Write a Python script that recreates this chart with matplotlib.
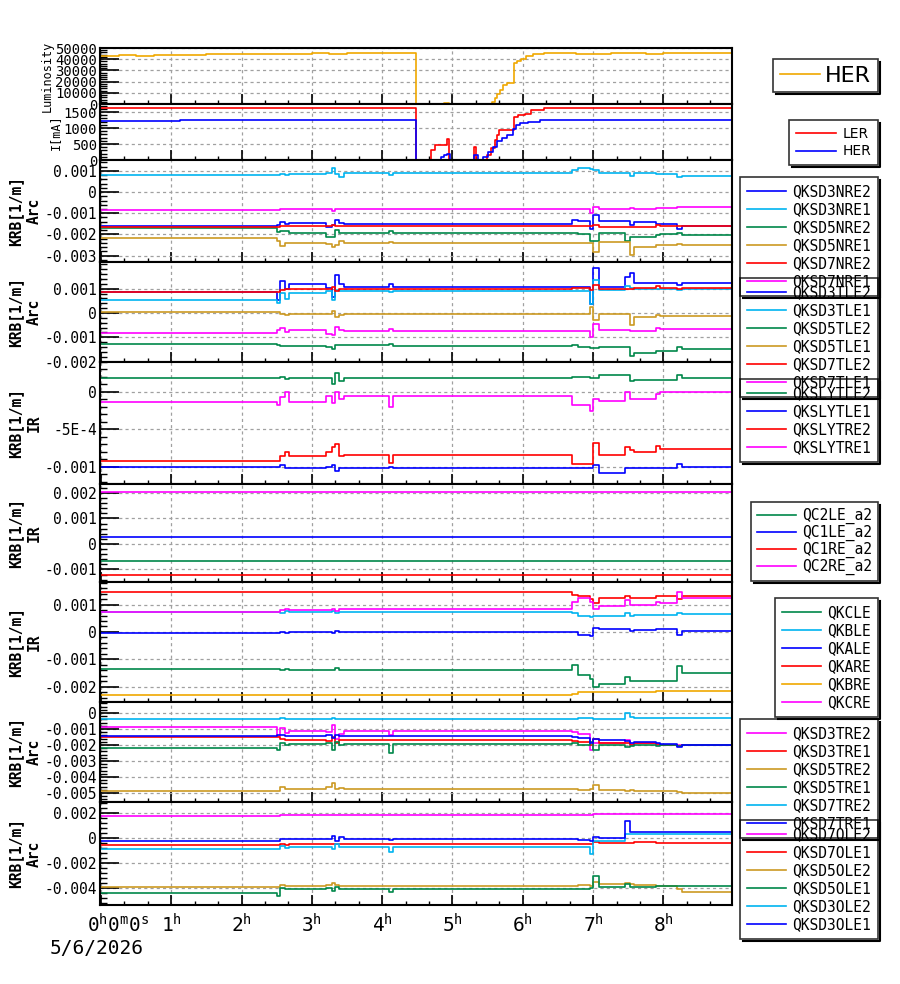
import matplotlib
matplotlib.use("Agg")
import matplotlib.pyplot as plt
from matplotlib.ticker import FixedLocator, FixedFormatter, MultipleLocator, AutoMinorLocator
from matplotlib.transforms import ScaledTranslation
from matplotlib.lines import Line2D

plt.rcParams['mathtext.fontset'] = 'custom'
plt.rcParams['mathtext.rm'] = 'DejaVu Sans Mono'
plt.rcParams['mathtext.default'] = 'rm'

MONO = 'DejaVu Sans Mono'
SANS = 'DejaVu Sans'

BLUE = '#0000ff'
CYAN = '#00b4f0'
GREEN = '#00884a'
GOLD = '#cc9922'
ORANGE = '#f0a800'
RED = '#ff0000'
MAGENTA = '#ff00ff'

# ---------------- data ----------------
# luminosity (hours, value)
LUM_T = [0, 0.25, 0.5, 0.75, 1.0, 1.25, 1.5, 1.75, 2.0, 2.25, 2.5, 2.75, 3.0, 3.25, 3.5,
         3.75, 4.0, 4.25, 4.476, 4.88, 4.95, 5.56, 5.6, 5.64, 5.68, 5.72, 5.77, 5.87, 5.92,
         5.97, 6.05, 6.15, 6.3, 6.5, 6.75, 7.0, 7.25, 7.5, 7.75, 8.0, 8.25, 8.5, 8.75, 8.98]
LUM_V = [43000, 43800, 43200, 43500, 44000, 43600, 44500, 44200, 44800, 44600, 44900, 44700,
         45300, 45000, 45600, 45200, 45400, 45100, 0, 800, 0, 2000, 5000, 9000, 12500, 17000,
         18500, 36300, 38700, 40000, 43000, 44500, 45200, 45800, 45000, 44800, 45200, 45500,
         45000, 45300, 45700, 45200, 45600, 45600]

# beam currents [mA]
LER_T = [0, 4.476, 4.70, 4.75, 4.92, 4.95, 5.30, 5.33, 5.49, 5.55, 5.60, 5.63, 5.66, 5.87,
         5.93, 6.03, 6.12, 6.3, 8.98]
LER_V = [1625, 0, 310, 470, 650, 0, 400, 0, 150, 375, 625, 780, 940, 1340, 1400, 1440, 1560,
         1625, 1625]
HER_T = [0, 1.12, 4.476, 4.84, 4.88, 4.92, 4.97, 5.3, 5.36, 5.43, 5.5, 5.57, 5.64, 5.71, 5.77,
         5.86, 5.9, 5.96, 6.08, 6.25, 8.98]
HER_V = [1220, 1245, 0, 80, 150, 190, 0, 150, 0, 80, 250, 420, 580, 700, 780, 970, 1090, 1150,
         1200, 1250, 1250]

# common time breakpoints of the skew-quad settings [h]
KRB_T = [0, 2.5, 2.55, 2.62, 2.68, 3.2, 3.28, 3.33, 3.38, 3.45, 4.1, 4.15, 6.7, 6.78, 6.95,
         7.0, 7.08, 7.45, 7.52, 7.58, 7.9, 7.95, 8.2, 8.27, 8.98]

# KRB values in units of 1e-3 [1/m]
QKSD3NRE2 = [-1.6, -1.55, -1.42, -1.5, -1.46, -1.65, -1.55, -1.3, -1.45, -1.5, -1.5, -1.5, -1.3,
             -1.37, -1.75, -1.1, -1.37, -1.37, -1.55, -1.42, -1.5, -1.5, -1.75, -1.6, -1.6]
QKSD3NRE1 = [0.8, 0.8, 0.85, 0.82, 0.85, 0.9, 1.13, 0.85, 0.7, 0.9, 0.8, 0.9, 1.04, 1.15, 1.1,
             1.05, 0.92, 0.9, 0.75, 0.9, 0.85, 0.85, 0.7, 0.75, 0.75]
QKSD5NRE2 = [-1.7, -1.9, -1.85, -1.85, -1.93, -2.1, -2.1, -1.8, -1.93, -1.93, -1.85, -1.93, -1.93,
             -2.0, -2.3, -2.3, -1.95, -2.3, -2.1, -2.1, -2.05, -2.0, -1.95, -2.05, -2.05]
QKSD5NRE1 = [-2.17, -2.3, -2.55, -2.4, -2.4, -2.45, -2.6, -2.5, -2.3, -2.4, -2.35, -2.4, -2.4,
             -2.4, -2.4, -2.83, -2.36, -2.36, -2.97, -2.6, -2.5, -2.5, -2.45, -2.5, -2.5]
QKSD7NRE2 = [-1.65, -1.65, -1.6, -1.62, -1.62, -1.6, -1.55, -1.6, -1.62, -1.62, -1.6, -1.62, -1.62,
             -1.62, -1.62, -1.55, -1.65, -1.65, -1.65, -1.65, -1.55, -1.6, -1.6, -1.6, -1.6]
QKSD7NRE1 = [-0.85, -0.85, -0.8, -0.82, -0.82, -0.82, -0.9, -0.8, -0.82, -0.82, -0.82, -0.82, -0.8,
             -0.82, -0.98, -0.72, -0.82, -0.8, -0.77, -0.78, -0.75, -0.74, -0.72, -0.72, -0.72]

QKSD3TLE2 = [0.86, 0.55, 1.32, 1.0, 1.19, 1.03, 0.66, 1.56, 1.2, 1.07, 1.2, 1.07, 1.07, 1.07, 0.37,
             1.85, 1.07, 1.48, 1.65, 1.25, 1.25, 1.25, 1.15, 1.23, 1.23]
QKSD3TLE1 = [0.53, 0.4, 0.82, 0.58, 0.82, 0.9, 0.53, 0.95, 0.9, 0.9, 0.85, 0.9, 0.9, 0.92, 0.37,
             1.36, 0.95, 1.1, 1.03, 1.0, 1.0, 1.0, 0.95, 1.0, 1.0]
QKSD5TLE2 = [-1.28, -1.3, -1.38, -1.36, -1.36, -1.4, -1.48, -1.3, -1.33, -1.32, -1.28, -1.35, -1.33,
             -1.42, -1.44, -1.45, -1.42, -1.42, -1.77, -1.65, -1.56, -1.56, -1.4, -1.48, -1.48]
QKSD5TLE1 = [0.04, 0.04, -0.04, -0.1, -0.04, -0.04, 0.08, -0.16, -0.08, -0.04, -0.04, -0.04, -0.04,
             -0.04, 0.25, -0.29, -0.04, -0.04, -0.49, -0.16, -0.08, -0.12, -0.12, -0.12, -0.12]
QKSD7TLE2 = [0.86, 0.86, 0.95, 1.0, 1.0, 1.0, 1.05, 0.9, 1.0, 1.0, 1.0, 1.0, 1.03, 1.03, 0.95,
             1.15, 1.0, 1.0, 0.98, 1.03, 1.1, 1.03, 0.98, 1.03, 1.03]
QKSD7TLE1 = [-0.82, -0.7, -0.62, -0.8, -0.7, -0.85, -0.9, -0.57, -0.7, -0.74, -0.68, -0.74, -0.74,
             -0.74, -0.99, -0.45, -0.7, -0.72, -0.74, -0.74, -0.62, -0.66, -0.66, -0.66, -0.66]

QKSLYTLE2 = [0.19, 0.19, 0.2, 0.17, 0.18, 0.18, 0.1, 0.25, 0.15, 0.18, 0.18, 0.18, 0.2, 0.2, 0.18,
             0.18, 0.22, 0.22, 0.15, 0.16, 0.16, 0.16, 0.22, 0.18, 0.18]
QKSLYTLE1 = [-1.0, -1.0, -0.98, -1.01, -1.01, -1.0, -0.98, -1.05, -1.02, -1.01, -1.0, -1.01, -1.01,
             -1.01, -1.01, -0.98, -1.08, -1.02, -1.02, -1.02, -1.02, -1.02, -0.96, -1.0, -1.0]
QKSLYTRE2 = [-0.92, -0.92, -0.85, -0.8, -0.85, -0.8, -0.73, -0.7, -0.85, -0.84, -0.95, -0.84, -0.96,
             -0.96, -0.96, -0.68, -0.84, -0.73, -0.78, -0.8, -0.72, -0.76, -0.76, -0.76, -0.76]
QKSLYTRE1 = [-0.14, -0.17, -0.07, 0.0, -0.13, -0.05, -0.15, 0.0, -0.1, -0.05, -0.2, -0.05, -0.17,
             -0.17, -0.25, -0.1, -0.12, 0.0, -0.1, -0.1, -0.03, 0.0, 0.0, 0.0, 0.0]

QC2LE_A2 = -0.66
QC1LE_A2 = 0.27
QC1RE_A2 = -1.2
QC2RE_A2 = 2.02

QKCLE = [-1.35, -1.35, -1.38, -1.35, -1.37, -1.37, -1.4, -1.33, -1.37, -1.37, -1.37, -1.37, -1.2,
         -1.55, -1.7, -2.0, -1.9, -1.65, -1.8, -1.8, -1.8, -1.8, -1.25, -1.5, -1.5]
QKBLE = [0.73, 0.73, 0.7, 0.75, 0.73, 0.73, 0.75, 0.7, 0.73, 0.73, 0.73, 0.73, 0.7, 0.6, 0.55, 0.6,
         0.6, 0.7, 0.6, 0.62, 0.62, 0.62, 0.68, 0.65, 0.65]
QKALE = [-0.02, -0.02, 0.0, -0.05, 0.0, 0.0, -0.03, 0.02, 0.0, 0.0, 0.0, 0.0, 0.0, -0.1, -0.15, 0.15,
         0.1, 0.1, 0.05, 0.08, 0.12, 0.1, -0.1, 0.05, 0.05]
QKARE = [1.45, 1.45, 1.45, 1.45, 1.45, 1.45, 1.45, 1.45, 1.45, 1.45, 1.45, 1.45, 1.35, 1.3, 1.2,
         1.05, 1.25, 1.3, 1.25, 1.25, 1.3, 1.3, 1.2, 1.3, 1.3]
QKBRE = [-2.3, -2.3, -2.3, -2.3, -2.3, -2.3, -2.3, -2.3, -2.3, -2.3, -2.3, -2.3, -2.25, -2.2, -2.2,
         -2.2, -2.2, -2.2, -2.2, -2.2, -2.15, -2.15, -2.15, -2.15, -2.15]
QKCRE = [0.73, 0.73, 0.8, 0.82, 0.8, 0.8, 0.85, 0.78, 0.82, 0.82, 0.82, 0.82, 1.1, 1.25, 1.1, 0.85,
         0.95, 1.15, 1.0, 1.0, 1.1, 1.05, 1.45, 1.25, 1.25]

QKSD3TRE2 = [-0.87, -1.45, -0.95, -1.25, -1.15, -1.2, -0.75, -1.6, -1.3, -1.15, -1.35, -1.15, -1.2,
             -1.3, -2.3, -1.9, -1.9, -1.7, -1.95, -1.9, -2.0, -2.0, -2.0, -2.0, -2.0]
QKSD3TRE1 = [-1.5, -1.5, -1.6, -1.7, -1.7, -1.75, -1.5, -1.9, -1.7, -1.7, -1.7, -1.7, -1.75, -1.8,
             -2.0, -1.6, -1.85, -1.9, -2.0, -1.9, -1.95, -2.0, -2.05, -2.0, -2.0]
QKSD5TRE2 = [-4.9, -4.85, -4.6, -4.75, -4.75, -4.6, -4.4, -4.75, -4.7, -4.75, -4.75, -4.75, -4.75,
             -4.8, -4.75, -4.5, -4.8, -4.85, -4.8, -4.85, -4.9, -4.9, -4.95, -5.0, -5.0]
QKSD5TRE1 = [-2.2, -2.3, -1.9, -2.0, -1.95, -1.85, -2.3, -1.8, -2.0, -1.95, -2.5, -1.95, -1.9, -2.0,
             -1.8, -2.3, -2.0, -2.1, -2.05, -2.0, -2.05, -2.0, -2.05, -2.0, -2.0]
QKSD7TRE2 = [-0.37, -0.37, -0.3, -0.35, -0.35, -0.35, -0.3, -0.4, -0.35, -0.35, -0.35, -0.35, -0.35,
             -0.3, -0.3, -0.35, -0.35, 0.0, -0.25, -0.3, -0.3, -0.3, -0.3, -0.3, -0.3]
QKSD7TRE1 = [-1.45, -1.4, -1.35, -1.45, -1.45, -1.4, -1.55, -1.35, -1.45, -1.45, -1.45, -1.45, -1.5,
             -1.55, -1.9, -1.6, -1.7, -1.75, -1.85, -1.8, -1.9, -1.95, -2.1, -2.0, -2.0]

QKSD7OLE2 = [1.8, 1.8, 1.82, 1.85, 1.85, 1.85, 1.85, 1.85, 1.85, 1.85, 1.85, 1.85, 1.85, 1.85, 1.85,
             1.9, 1.9, 1.9, 1.9, 1.9, 1.9, 1.9, 1.9, 1.9, 1.9]
QKSD7OLE1 = [-0.56, -0.56, -0.5, -0.55, -0.5, -0.5, -0.5, -0.5, -0.5, -0.5, -0.5, -0.5, -0.5, -0.5,
             -0.5, -0.3, -0.4, -0.4, -0.4, -0.35, -0.4, -0.4, -0.4, -0.4, -0.4]
QKSD5OLE2 = [-3.95, -3.9, -3.75, -3.8, -3.8, -3.75, -3.6, -3.75, -3.8, -3.8, -3.85, -3.8, -3.8, -3.75,
             -3.8, -3.5, -3.7, -3.6, -3.7, -3.75, -3.8, -3.8, -4.1, -4.3, -4.3]
QKSD5OLE1 = [-4.4, -4.6, -4.0, -4.1, -4.05, -4.0, -4.2, -3.9, -4.1, -4.05, -4.3, -4.05, -4.05, -4.1,
             -4.0, -3.0, -3.95, -3.7, -3.9, -3.9, -3.85, -3.85, -3.8, -3.85, -3.85]
QKSD3OLE2 = [-0.88, -0.9, -0.6, -0.8, -0.7, -0.7, -0.9, -0.5, -0.7, -0.7, -1.1, -0.7, -0.7, -0.75,
             -1.3, -0.2, -0.25, 0.3, 0.3, 0.35, 0.3, 0.35, 0.3, 0.3, 0.3]
QKSD3OLE1 = [-0.25, -0.2, -0.1, -0.05, -0.1, -0.1, 0.2, -0.2, 0.05, -0.1, -0.15, -0.1, -0.1, -0.15,
             -0.2, 0.05, 0.0, 1.4, 0.5, 0.45, 0.5, 0.45, 0.5, 0.45, 0.45]

X_TICKS = [0, 1, 2, 3, 4, 5, 6, 7, 8]
X_LABELS = [r'$0^{h}0^{m}0^{s}$', r'$1^{h}$', r'$2^{h}$', r'$3^{h}$', r'$4^{h}$',
            r'$5^{h}$', r'$6^{h}$', r'$7^{h}$', r'$8^{h}$']
DATE_LABEL = '5/6/2026'

# panels: ylabel, (ymin, ymax) in 1e-3, tick values in 1e-3, tick labels, series, legend top px
KRB_PANELS = [
    ('KRB[1/m]\nArc', (-3.30, 1.51), [1, 0, -1, -2, -3], ['0.001', '0', '-0.001', '-0.002', '-0.003'],
     [('QKSD3NRE2', BLUE, QKSD3NRE2), ('QKSD3NRE1', CYAN, QKSD3NRE1), ('QKSD5NRE2', GREEN, QKSD5NRE2),
      ('QKSD5NRE1', GOLD, QKSD5NRE1), ('QKSD7NRE2', RED, QKSD7NRE2), ('QKSD7NRE1', MAGENTA, QKSD7NRE1)], 177),
    ('KRB[1/m]\nArc', (-2.02, 2.1), [1, 0, -1, -2], ['0.001', '0', '-0.001', '-0.002'],
     [('QKSD3TLE2', BLUE, QKSD3TLE2), ('QKSD3TLE1', CYAN, QKSD3TLE1), ('QKSD5TLE2', GREEN, QKSD5TLE2),
      ('QKSD5TLE1', GOLD, QKSD5TLE1), ('QKSD7TLE2', RED, QKSD7TLE2), ('QKSD7TLE1', MAGENTA, QKSD7TLE1)], 278),
    ('KRB[1/m]\nIR', (-1.227, 0.4), [0, -0.5, -1], ['0', '-5E-4', '-0.001'],
     [('QKSLYTLE2', GREEN, QKSLYTLE2), ('QKSLYTLE1', BLUE, QKSLYTLE1), ('QKSLYTRE2', RED, QKSLYTRE2),
      ('QKSLYTRE1', MAGENTA, QKSLYTRE1)], 379),
    ('KRB[1/m]\nIR', (-1.49, 2.35), [2, 1, 0, -1], ['0.002', '0.001', '0', '-0.001'],
     [('QC2LE_a2', GREEN, [QC2LE_A2] * len(KRB_T)), ('QC1LE_a2', BLUE, [QC1LE_A2] * len(KRB_T)),
      ('QC1RE_a2', RED, [QC1RE_A2] * len(KRB_T)), ('QC2RE_a2', MAGENTA, [QC2RE_A2] * len(KRB_T))], 502),
    ('KRB[1/m]\nIR', (-2.55, 1.82), [1, 0, -1, -2], ['0.001', '0', '-0.001', '-0.002'],
     [('QKCLE', GREEN, QKCLE), ('QKBLE', CYAN, QKBLE), ('QKALE', BLUE, QKALE), ('QKARE', RED, QKARE),
      ('QKBRE', ORANGE, QKBRE), ('QKCRE', MAGENTA, QKCRE)], 598),
    ('KRB[1/m]\nArc', (-5.56, 0.69), [0, -1, -2, -3, -4, -5],
     ['0', '-0.001', '-0.002', '-0.003', '-0.004', '-0.005'],
     [('QKSD3TRE2', MAGENTA, QKSD3TRE2), ('QKSD3TRE1', RED, QKSD3TRE1), ('QKSD5TRE2', GOLD, QKSD5TRE2),
      ('QKSD5TRE1', GREEN, QKSD5TRE1), ('QKSD7TRE2', CYAN, QKSD7TRE2), ('QKSD7TRE1', BLUE, QKSD7TRE1)], 719),
    ('KRB[1/m]\nArc', (-5.36, 2.88), [2, 0, -2, -4], ['0.002', '0', '-0.002', '-0.004'],
     [('QKSD7OLE2', MAGENTA, QKSD7OLE2), ('QKSD7OLE1', RED, QKSD7OLE1), ('QKSD5OLE2', GOLD, QKSD5OLE2),
      ('QKSD5OLE1', GREEN, QKSD5OLE1), ('QKSD3OLE2', CYAN, QKSD3OLE2), ('QKSD3OLE1', BLUE, QKSD3OLE1)], 820),
]

# ---------------- layout ----------------
W, H = 900, 984
AX_L, AX_R = 100, 732
EDGES = [48, 104, 160, 262, 362, 484, 582, 702, 802, 905]
LEG_RIGHT = 878
X_MIN, X_MAX = -0.014, 8.976

fig = plt.figure(figsize=(W / 100, H / 100), dpi=100)
legends = []


def make_axes(top, bottom):
    return fig.add_axes([AX_L / W, 1 - bottom / H, (AX_R - AX_L) / W, (bottom - top) / H])


def style(ax, yticks, ylabels, ylim, labelsize=10.5):
    ax.set_xlim(X_MIN, X_MAX)
    ax.set_ylim(*ylim)
    ax.yaxis.set_major_locator(FixedLocator(yticks))
    ax.yaxis.set_major_formatter(FixedFormatter(ylabels))
    ax.yaxis.set_minor_locator(AutoMinorLocator(5))
    ax.xaxis.set_major_locator(FixedLocator(X_TICKS))
    ax.xaxis.set_minor_locator(MultipleLocator(1 / 3))
    ax.tick_params(axis='y', which='major', direction='in', length=14, width=1.2, pad=2,
                   labelsize=labelsize, labelfontfamily=MONO)
    ax.tick_params(axis='y', which='minor', direction='in', length=5, width=1)
    ax.tick_params(axis='x', which='major', direction='in', length=7, width=1.2, labelbottom=False)
    ax.tick_params(axis='x', which='minor', direction='in', length=3, width=1)
    ax.grid(True, which='major', color='#a0a0a0', linestyle=(0, (2.5, 2.5)), linewidth=0.9)
    ax.set_axisbelow(True)
    for sp in ax.spines.values():
        sp.set_linewidth(1.5)


def add_legend(ax, top, fontsize, family, handlelength, textpad, borderpad=0.5, spacing=0.2):
    leg = ax.legend(loc='upper right', bbox_to_anchor=(LEG_RIGHT / W, 1 - top / H),
                    bbox_transform=fig.transFigure, borderaxespad=0, fancybox=False,
                    edgecolor='black', facecolor='none', framealpha=None,
                    prop={'family': family, 'size': fontsize}, handlelength=handlelength,
                    handletextpad=textpad, borderpad=borderpad, labelspacing=spacing)
    leg.get_frame().set_linewidth(1.2)
    legends.append(leg)


# luminosity
ax = make_axes(EDGES[0], EDGES[1])
ax.step(LUM_T, LUM_V, where='post', color=ORANGE, lw=1.2, label='HER')
style(ax, [0, 10000, 20000, 30000, 40000, 50000],
      ['0', '10000', '20000', '30000', '40000', '50000'], (0, 50000), labelsize=10)
ax.set_ylabel('Luminosity', family=MONO, fontsize=8.5)
ax.yaxis.set_label_coords(-0.073, 0.5)
add_legend(ax, 59, 16, SANS, 1.8, 0.25, borderpad=0.3, spacing=0.1)

# currents
ax = make_axes(EDGES[1], EDGES[2])
ax.step(LER_T, LER_V, where='post', color=RED, lw=1.2, label='LER')
ax.step(HER_T, HER_V, where='post', color=BLUE, lw=1.2, label='HER')
style(ax, [0, 500, 1000, 1500], ['0', '500', '1000', '1500'], (0, 1750), labelsize=10)
ax.set_ylabel('I[mA]', family=MONO, fontsize=8.5)
ax.yaxis.set_label_coords(-0.06, 0.5)
add_legend(ax, 120, 10, SANS, 2.9, 0.43, borderpad=0.5, spacing=0.25)

# skew quad panels
for i, (ylabel, ylim, yt, ytl, series, legtop) in enumerate(KRB_PANELS):
    ax = make_axes(EDGES[2 + i], EDGES[3 + i])
    for name, color, vals in series:
        ax.step(KRB_T, [v * 1e-3 for v in vals], where='post', color=color, lw=1.2, label=name)
    style(ax, [t * 1e-3 for t in yt], ytl, (ylim[0] * 1e-3, ylim[1] * 1e-3))
    ax.set_ylabel(ylabel, family=MONO, fontweight='bold', fontsize=10.5, linespacing=1.3)
    ax.yaxis.set_label_coords(-0.092, 0.5)
    # underscores make the text boxes taller, so tighten those rows
    has_underscore = any('_' in s[0] for s in series)
    add_legend(ax, legtop, 10.5, MONO, 2.67, 0.41,
               borderpad=0.4 if has_underscore else 0.5,
               spacing=0.06 if has_underscore else 0.2)
    bottom_ax = ax

bottom_ax.tick_params(axis='x', which='major', labelbottom=True, labelsize=14, pad=6)
bottom_ax.xaxis.set_major_formatter(FixedFormatter(X_LABELS))
first = bottom_ax.get_xticklabels()[0]
first.set_transform(first.get_transform() + ScaledTranslation(0.17, 0, fig.dpi_scale_trans))
fig.text(50 / W, 1 - 948 / H, DATE_LABEL, family=MONO, fontsize=14, va='center', ha='left')

# legend drop shadows
fig.canvas.draw()
for leg in legends:
    bb = leg.get_frame().get_window_extent()
    xs = [(bb.x0 + 3) / W, (bb.x1 + 2) / W, (bb.x1 + 2) / W]
    ys = [(bb.y0 - 2) / H, (bb.y0 - 2) / H, (bb.y1 - 3) / H]
    fig.add_artist(Line2D(xs, ys, transform=fig.transFigure, color='black', lw=1.5))

fig.savefig('out.png', dpi=100)
